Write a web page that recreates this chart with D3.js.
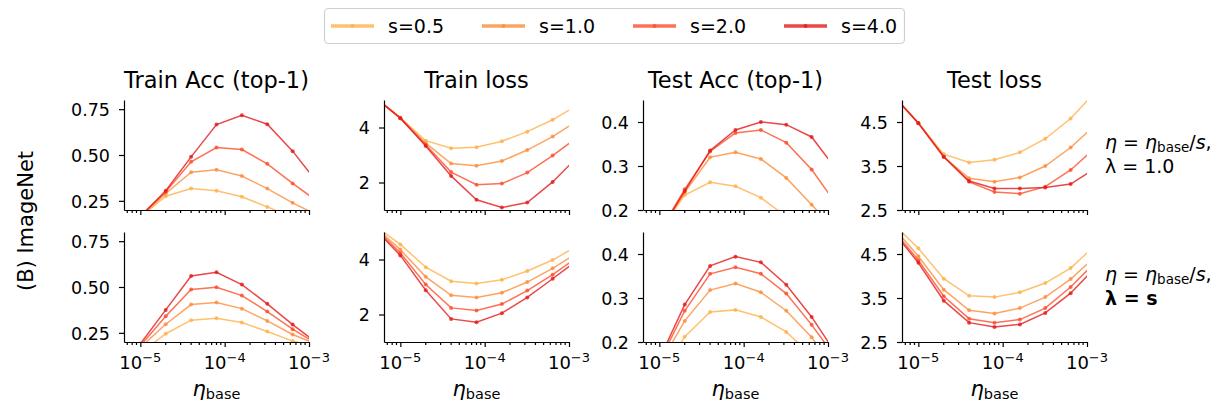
<!DOCTYPE html>
<html>
<head>
<meta charset="utf-8">
<script src="https://cdn.jsdelivr.net/npm/d3@7"></script>
<style>
  body { margin: 0; background: #fff; }
  svg { display: block; font-family: "DejaVu Sans", sans-serif; }
  .axis path, .axis line { stroke: #000; stroke-width: 1.2; }
  .axis text { font-family: "DejaVu Sans", sans-serif; font-size: 17.5px; fill: #000; }
</style>
</head>
<body>
<svg id="chart" width="1219" height="408"></svg>
<script>
// learning rates used in the sweep (first and last points fall outside the x range)
const lrGrid = [5e-6, 1e-5, 2e-5, 4e-5, 8e-5, 1.6e-4, 3.2e-4, 6.4e-4, 1.28e-3];
const seriesLabels = ["s=0.5", "s=1.0", "s=2.0", "s=4.0"];
const seriesColors = ["#feb24c", "#fd8d3c", "#fc4e2a", "#e31a1c"];

const metricTitles = ["Train Acc (top-1)", "Train loss", "Test Acc (top-1)", "Test loss"];
const yDomains = [[0.2, 0.8], [1, 5], [0.2, 0.45], [2.5, 5.0]];
const yTickValues = [[0.25, 0.5, 0.75], [2, 4], [0.2, 0.3, 0.4], [2.5, 3.5, 4.5]];
const yTickFormats = [".2f", "d", ".1f", ".1f"];
const xTickValues = [1e-5, 1e-4, 1e-3];
const xTickExponents = ["−5", "−4", "−3"];

// row 1: eta = eta_base / s, lambda = 1.0   (one row per s)
const trainAccLam1 = [
  [0.10, 0.16, 0.275, 0.317, 0.305, 0.272, 0.217, 0.16, 0.10],
  [0.10, 0.165, 0.29, 0.406, 0.419, 0.385, 0.317, 0.239, 0.17],
  [0.10, 0.165, 0.30, 0.463, 0.541, 0.53, 0.452, 0.345, 0.245],
  [0.10, 0.165, 0.305, 0.49, 0.666, 0.717, 0.668, 0.521, 0.344]
];
const trainLossLam1 = [
  [5.1, 4.36, 3.52, 3.25, 3.28, 3.50, 3.85, 4.28, 4.82],
  [5.1, 4.34, 3.43, 2.69, 2.61, 2.78, 3.18, 3.67, 4.26],
  [5.1, 4.34, 3.37, 2.38, 1.92, 1.96, 2.36, 2.98, 3.66],
  [5.1, 4.34, 3.33, 2.24, 1.37, 1.09, 1.27, 2.02, 2.95]
];
const testAccLam1 = [
  [0.08, 0.15, 0.234, 0.263, 0.254, 0.228, 0.185, 0.13, 0.08],
  [0.08, 0.15, 0.24, 0.32, 0.331, 0.316, 0.273, 0.212, 0.15],
  [0.08, 0.15, 0.247, 0.333, 0.375, 0.382, 0.353, 0.292, 0.211],
  [0.08, 0.15, 0.243, 0.335, 0.382, 0.40, 0.394, 0.366, 0.29]
];
const testLossLam1 = [
  [5.11, 4.48, 3.77, 3.58, 3.64, 3.81, 4.12, 4.58, 5.2],
  [5.11, 4.48, 3.71, 3.22, 3.14, 3.24, 3.50, 3.92, 4.45],
  [5.11, 4.48, 3.71, 3.14, 2.91, 2.87, 3.03, 3.41, 3.93],
  [5.11, 4.47, 3.71, 3.16, 2.99, 2.99, 3.01, 3.09, 3.46]
];

// row 2: eta = eta_base / s, lambda = s
const trainAccLamS = [
  [0.08, 0.14, 0.245, 0.319, 0.33, 0.306, 0.257, 0.205, 0.17],
  [0.10, 0.17, 0.297, 0.404, 0.415, 0.382, 0.315, 0.241, 0.185],
  [0.11, 0.18, 0.341, 0.486, 0.498, 0.453, 0.366, 0.27, 0.186],
  [0.11, 0.19, 0.375, 0.56, 0.58, 0.513, 0.408, 0.295, 0.19]
];
const trainLossLamS = [
  [5.22, 4.55, 3.72, 3.21, 3.13, 3.26, 3.58, 3.98, 4.51],
  [5.19, 4.36, 3.37, 2.70, 2.62, 2.79, 3.18, 3.68, 4.25],
  [5.15, 4.24, 3.09, 2.24, 2.15, 2.38, 2.87, 3.45, 4.10],
  [5.11, 4.15, 2.88, 1.84, 1.72, 2.05, 2.62, 3.30, 3.99]
];
const testAccLamS = [
  [0.05, 0.12, 0.212, 0.268, 0.273, 0.257, 0.223, 0.17, 0.12],
  [0.07, 0.148, 0.248, 0.318, 0.333, 0.313, 0.271, 0.211, 0.13],
  [0.08, 0.155, 0.271, 0.355, 0.370, 0.355, 0.31, 0.239, 0.16],
  [0.08, 0.161, 0.285, 0.373, 0.394, 0.381, 0.330, 0.257, 0.17]
];
const testLossLamS = [
  [5.19, 4.63, 3.94, 3.55, 3.52, 3.63, 3.84, 4.18, 4.71],
  [5.11, 4.45, 3.69, 3.22, 3.15, 3.27, 3.52, 3.93, 4.45],
  [5.05, 4.36, 3.54, 3.03, 2.94, 3.01, 3.27, 3.75, 4.33],
  [5.02, 4.30, 3.44, 2.94, 2.84, 2.90, 3.16, 3.61, 4.21]
];

const rowData = [
  [trainAccLam1, trainLossLam1, testAccLam1, testLossLam1],
  [trainAccLamS, trainLossLamS, testAccLamS, testLossLamS]
];

const svg = d3.select("#chart");
const panelLefts = [124, 384, 643, 902];
const panelWidth = 185;
const rowTops = [100, 232];
const panelHeight = 110;
const xMin = 6.4e-6, xMax = 1e-3;

const x = d3.scaleLog().domain([xMin, xMax]).range([0, panelWidth]);

// minor ticks for the log axis
const minorTicks = [];
for (let e = -6; e <= -4; e++) {
  for (let m = 2; m <= 9; m++) {
    const v = m * Math.pow(10, e);
    if (v >= xMin && v <= xMax) minorTicks.push(v);
  }
}

rowData.forEach((row, r) => {
  row.forEach((series, c) => {
    const g = svg.append("g")
      .attr("transform", `translate(${panelLefts[c]},${rowTops[r]})`);
    const y = d3.scaleLinear().domain(yDomains[c]).range([panelHeight, 0]);

    const clipId = `clip-${r}-${c}`;
    g.append("clipPath").attr("id", clipId)
      .append("rect").attr("x", 0).attr("y", 0)
      .attr("width", panelWidth).attr("height", panelHeight);

    const plot = g.append("g").attr("clip-path", `url(#${clipId})`);
    const line = d3.line().x((d, i) => x(lrGrid[i])).y((d) => y(d));

    series.forEach((vals, k) => {
      plot.append("path")
        .datum(vals)
        .attr("d", line)
        .attr("fill", "none")
        .attr("stroke", seriesColors[k])
        .attr("stroke-opacity", 0.8)
        .attr("stroke-width", 1.5);
      plot.selectAll(null)
        .data(vals)
        .join("circle")
        .attr("cx", (d, i) => x(lrGrid[i]))
        .attr("cy", (d) => y(d))
        .attr("r", 2)
        .attr("fill", seriesColors[k])
        .attr("fill-opacity", 0.8);
    });

    // y axis
    g.append("g").attr("class", "axis")
      .call(d3.axisLeft(y).tickValues(yTickValues[c])
        .tickFormat(d3.format(yTickFormats[c])).tickSize(5).tickPadding(9).tickSizeOuter(0))
      .call((a) => a.selectAll("text").attr("dy", "0.36em"));

    // x axis with minor ticks
    const xa = g.append("g").attr("class", "axis")
      .attr("transform", `translate(0,${panelHeight})`)
      .call(d3.axisBottom(x).tickValues(xTickValues).tickFormat("").tickSize(5).tickSizeOuter(0));
    xa.selectAll(".minor")
      .data(minorTicks)
      .join("line")
      .attr("class", "minor")
      .attr("x1", (d) => x(d)).attr("x2", (d) => x(d))
      .attr("y1", 0).attr("y2", 3)
      .attr("stroke", "#000").attr("stroke-width", 0.9);

    if (r === 1) {
      xTickValues.forEach((v, i) => {
        const t = xa.append("text")
          .attr("x", x(v)).attr("y", 27)
          .attr("text-anchor", "middle")
          .style("font-size", "18px")
          .attr("fill", "#000");
        t.append("tspan").text("10");
        t.append("tspan").attr("dy", -7.5).style("font-size", "13px").text(xTickExponents[i]);
      });
      const xl = g.append("text")
        .attr("x", panelWidth / 2).attr("y", panelHeight + 54)
        .attr("text-anchor", "middle");
      xl.append("tspan").style("font-style", "italic").style("font-size", "21px").text("η");
      xl.append("tspan").attr("dy", 3).style("font-size", "14.5px").text("base");
    }

    if (r === 0) {
      g.append("text")
        .attr("x", panelWidth / 2).attr("y", -12)
        .attr("text-anchor", "middle")
        .style("font-size", "22.5px")
        .text(metricTitles[c]);
    }
  });
});

// row labels on the right
function etaLabel(yPos) {
  const t = svg.append("text").attr("x", 1105).attr("y", yPos).style("font-size", "19px");
  t.append("tspan").style("font-style", "italic").text("η");
  t.append("tspan").text(" = ");
  t.append("tspan").style("font-style", "italic").text("η");
  t.append("tspan").attr("dy", 3).style("font-size", "13.5px").text("base");
  t.append("tspan").attr("dy", -3).text("/");
  t.append("tspan").style("font-style", "italic").text("s");
  t.append("tspan").text(",");
}
etaLabel(149);
svg.append("text").attr("x", 1105).attr("y", 173).style("font-size", "19px").text("λ = 1.0");
etaLabel(281);
svg.append("text").attr("x", 1105).attr("y", 305).style("font-size", "19px")
  .style("font-weight", "bold").text("λ = s");

// left label
svg.append("text")
  .attr("transform", "translate(33,221) rotate(-90)")
  .attr("text-anchor", "middle")
  .style("font-size", "21px")
  .text("(B) ImageNet");

// legend
const legend = svg.append("g");
legend.append("rect")
  .attr("x", 324.5).attr("y", 8.5).attr("width", 580).attr("height", 35)
  .attr("rx", 4).attr("fill", "#fff").attr("stroke", "#d0d0d0").attr("stroke-width", 1.2);
seriesLabels.forEach((lab, k) => {
  const x0 = 331 + k * 151;
  legend.append("line")
    .attr("x1", x0).attr("x2", x0 + 43).attr("y1", 26).attr("y2", 26)
    .attr("stroke", seriesColors[k]).attr("stroke-opacity", 0.8).attr("stroke-width", 3.5);
  legend.append("circle")
    .attr("cx", x0 + 21.5).attr("cy", 26).attr("r", 2)
    .attr("fill", seriesColors[k]).attr("fill-opacity", 0.8);
  legend.append("text")
    .attr("x", x0 + 57).attr("y", 32.5)
    .style("font-size", "19px")
    .text(lab);
});
</script>
</body>
</html>
